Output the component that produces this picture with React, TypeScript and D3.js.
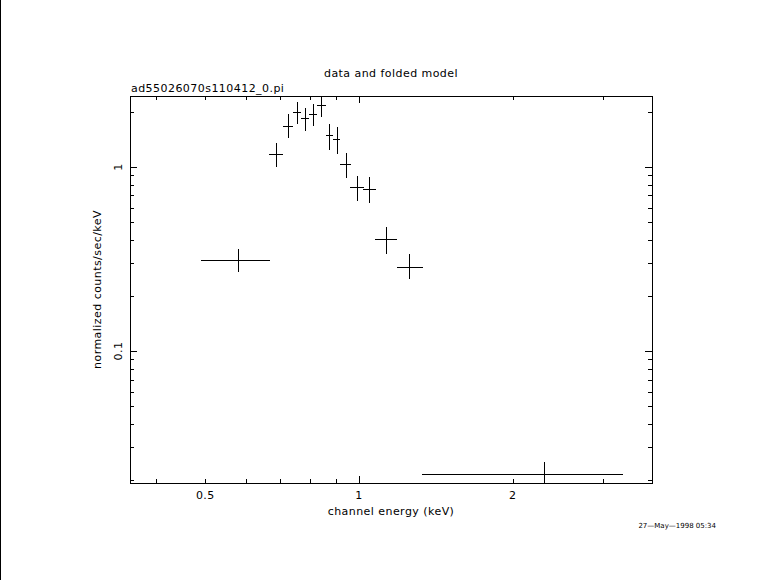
import React from "react";
import * as d3 from "d3";

// channel energy (keV): centre, low edge, high edge
const energy = [0.58, 0.689, 0.727, 0.756, 0.785, 0.814, 0.844, 0.875, 0.904, 0.942, 0.991, 1.046, 1.131, 1.255, 2.3];
const energyLo = [0.49, 0.667, 0.711, 0.741, 0.771, 0.799, 0.829, 0.86, 0.89, 0.919, 0.96, 1.018, 1.075, 1.186, 1.329];
const energyHi = [0.668, 0.711, 0.741, 0.771, 0.799, 0.829, 0.86, 0.89, 0.919, 0.963, 1.023, 1.078, 1.186, 1.335, 3.29];
// normalized counts/sec/keV: value, low, high
const rate = [0.312, 1.172, 1.677, 1.98, 1.84, 1.94, 2.17, 1.486, 1.42, 1.034, 0.775, 0.756, 0.405, 0.287, 0.0215];
const rateLo = [0.27, 1.004, 1.443, 1.71, 1.576, 1.677, 1.877, 1.237, 1.18, 0.875, 0.653, 0.637, 0.338, 0.245, 0.015];
const rateHi = [0.358, 1.345, 1.934, 2.26, 2.1, 2.2, 2.41, 1.706, 1.643, 1.196, 0.894, 0.882, 0.47, 0.335, 0.0249];

const xTickLabels = [0.5, 1, 2];
const yTickLabels = [0.1, 1];

const titleText = "data and folded model";
const fileText = "ad55026070s110412_0.pi";
const xLabel = "channel energy (keV)";
const yLabel = "normalized counts/sec/keV";
const dateText = "27\u2014May\u20141998 05:34";

export default function App() {
  const W = 781, H = 580;
  const L = 130, R = 652, T = 96, B = 483;
  const x = d3.scaleLog().domain([0.356, 3.75]).range([L, R]);
  const y = d3.scaleLog().domain([0.0192, 2.43]).range([B, T]);

  const minorX: number[] = [];
  for (const dec of [0.1, 1]) for (let k = 1; k <= 9; k++) {
    const v = dec * k;
    if (v >= 0.356 && v <= 3.75) minorX.push(v);
  }
  const minorY: number[] = [];
  for (const dec of [0.01, 0.1, 1]) for (let k = 1; k <= 9; k++) {
    const v = dec * k;
    if (v >= 0.0192 && v <= 2.43) minorY.push(v);
  }
  const isMajor = (v: number) => Math.abs(Math.log10(v) - Math.round(Math.log10(v))) < 1e-6;
  const font = "'DejaVu Sans', sans-serif";

  return (
    <svg width={W} height={H} style={{ position: "absolute", left: 0, top: 0, background: "#fff" }}
      shapeRendering="crispEdges">
      <rect x={0} y={0} width={W} height={H} fill="#fff" />
      <line x1={0.5} y1={0} x2={0.5} y2={H} stroke="#000" />
      <defs>
        <clipPath id="plotclip"><rect x={L} y={T} width={R - L} height={B - T} /></clipPath>
      </defs>
      <g stroke="#000" strokeWidth={1}>
        <rect x={L} y={T} width={R - L} height={B - T} fill="none" />
        {minorX.map((v, i) => {
          const len = isMajor(v) ? 7 : 4;
          const px = Math.round(x(v)) + 0.5;
          return (
            <g key={"xt" + i}>
              <line x1={px} x2={px} y1={B} y2={B - len} />
              <line x1={px} x2={px} y1={T} y2={T + len} />
            </g>
          );
        })}
        {minorY.map((v, i) => {
          const len = isMajor(v) ? 7 : 4;
          const py = Math.round(y(v)) + 0.5;
          return (
            <g key={"yt" + i}>
              <line x1={L} x2={L + len} y1={py} y2={py} />
              <line x1={R} x2={R - len} y1={py} y2={py} />
            </g>
          );
        })}
      </g>
      <g clipPath="url(#plotclip)" stroke="#000" strokeWidth={1}>
        {energy.map((e, i) => {
          const cx = Math.round(x(e)) + 0.5;
          const cy = Math.round(y(rate[i])) + 0.5;
          return (
            <g key={"p" + i}>
              <line x1={x(energyLo[i])} x2={x(energyHi[i])} y1={cy} y2={cy} />
              <line x1={cx} x2={cx} y1={y(rateLo[i])} y2={y(rateHi[i])} />
            </g>
          );
        })}
      </g>
      <g fontFamily={font} fontSize={11} fill="#000" letterSpacing={0.45}>
        {xTickLabels.map((v, i) => (
          <text key={"xl" + i} x={x(v)} y={499} textAnchor="middle">{String(v)}</text>
        ))}
        {yTickLabels.map((v, i) => (
          <text key={"yl" + i} transform={`translate(${122},${y(v)}) rotate(-90)`} textAnchor="middle">{String(v)}</text>
        ))}
        <text x={(L + R) / 2} y={77} textAnchor="middle">{titleText}</text>
        <text x={L + 1} y={92}>{fileText}</text>
        <text x={(L + R) / 2} y={515} textAnchor="middle">{xLabel}</text>
        <text transform={`translate(${101},${(T + B) / 2}) rotate(-90)`} textAnchor="middle">{yLabel}</text>
        <text x={716} y={528} textAnchor="end" fontSize={7} letterSpacing={0}>{dateText}</text>
      </g>
    </svg>
  );
}
